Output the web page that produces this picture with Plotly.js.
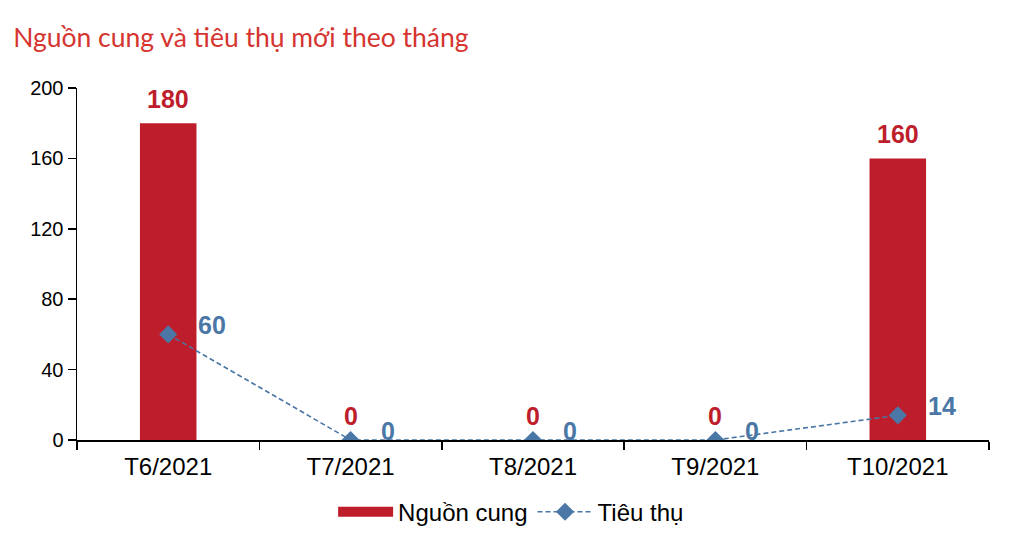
<!DOCTYPE html>
<html>
<head>
<meta charset="utf-8">
<script src="https://cdn.plot.ly/plotly-3.0.1.min.js"></script>
<style>html,body{margin:0;padding:0;background:#fff;}#chart{width:1014px;height:533px;}</style>
</head>
<body>
<div id="chart"></div>
<script>
const categories = ["T6/2021", "T7/2021", "T8/2021", "T9/2021", "T10/2021"];
const supply = [180, 0, 0, 0, 160];
const consumption = [60, 0, 0, 0, 14];
const yTicks = [0, 40, 80, 120, 160, 200];
const seriesNames = ["Nguồn cung", "Tiêu thụ"];
const chartTitle = "Nguồn cung và tiêu thụ mới theo tháng";

const RED = "#BE1E2B";
const BLUE = "#4A77A5";

const traces = [
  {
    type: "bar", x: categories, y: supply, name: seriesNames[0],
    marker: {color: RED}, width: 0.31, showlegend: false, hoverinfo: "x+y"
  },
  {
    type: "scatter", mode: "lines", x: [null], y: [null], name: seriesNames[0],
    line: {color: RED, width: 12}, showlegend: true, hoverinfo: "skip"
  },
  {
    type: "scatter", mode: "lines+markers", x: categories, y: consumption, name: seriesNames[1],
    line: {color: BLUE, width: 1.6, dash: "5px,3px"},
    marker: {symbol: "diamond", size: 14, color: BLUE}
  }
];

const annotations = [];
categories.forEach((c, i) => {
  annotations.push({
    x: c, y: supply[i], xref: "x", yref: "y", text: String(supply[i]),
    showarrow: false, xanchor: "center", yanchor: "bottom", yshift: 8,
    font: {family: "Liberation Sans, Arial, sans-serif", size: 25, color: RED, weight: "bold"}
  });
  annotations.push({
    x: c, y: consumption[i], xref: "x", yref: "y", text: String(consumption[i]),
    showarrow: false, xanchor: "left", yanchor: "middle", xshift: 28, yshift: 9,
    font: {family: "Liberation Sans, Arial, sans-serif", size: 25, color: BLUE, weight: "bold"}
  });
});

const layout = {
  width: 1014, height: 533,
  margin: {l: 77, r: 25, t: 88, b: 93, autoexpand: false},
  paper_bgcolor: "#fff", plot_bgcolor: "#fff",
  title: {
    text: chartTitle, x: 0.013, xanchor: "left", y: 0.93, yanchor: "middle",
    font: {family: "Lato, sans-serif", size: 26.5, color: "#D5342F"}
  },
  font: {family: "Liberation Sans, Arial, sans-serif", color: "#000"},
  xaxis: {
    type: "category", showline: true, linecolor: "#000", linewidth: 1.5, automargin: false,
    ticks: "outside", tickson: "boundaries", ticklen: 8, tickcolor: "#000", tickwidth: 1.5,
    ticklabelstandoff: 5,
    tickfont: {size: 24, color: "#000"}, showgrid: false, zeroline: false, fixedrange: true
  },
  yaxis: {
    range: [0, 200], tickvals: yTicks, ticktext: yTicks.map(String), automargin: false,
    showline: true, linecolor: "#000", linewidth: 1.5,
    ticks: "outside", ticklen: 8, tickcolor: "#000", tickwidth: 1.5,
    tickfont: {size: 20, color: "#000"}, showgrid: false, zeroline: false, fixedrange: true
  },
  legend: {
    orientation: "h", x: 0.476, xanchor: "center", y: -0.205, yanchor: "middle",
    font: {size: 24, color: "#000"}, itemwidth: 55, bgcolor: "rgba(0,0,0,0)"
  },
  annotations: annotations,
  showlegend: true
};

Plotly.newPlot("chart", traces, layout, {displayModeBar: false, staticPlot: true});
</script>
</body>
</html>
